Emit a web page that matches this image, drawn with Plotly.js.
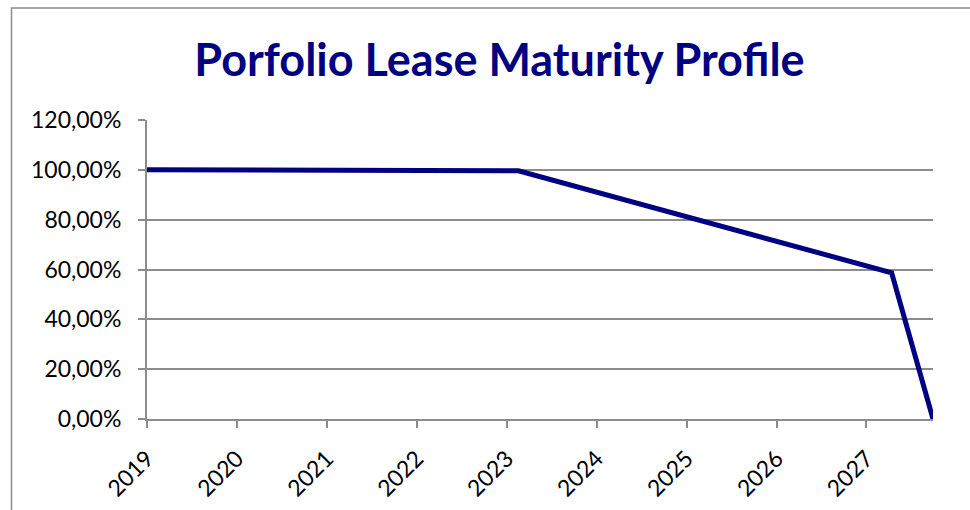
<!DOCTYPE html>
<html>
<head>
<meta charset="utf-8">
<script src="https://cdn.plot.ly/plotly-3.0.1.min.js"></script>
<style>html,body{margin:0;padding:0;background:#fff;}#chart{width:970px;height:510px;}</style>
</head>
<body>
<div id="chart"></div>
<script>
const titleText = "Porfolio Lease Maturity Profile";
const xYears = [2019, 2023.13, 2027.28, 2027.74];
const occupancy = [1.0, 0.996, 0.587, 0.0];
const tickYears = [2019, 2020, 2021, 2022, 2023, 2024, 2025, 2026, 2027];
const tickLabels = ["2019", "2020", "2021", "2022", "2023", "2024", "2025", "2026", "2027"];
const yTicks = [0, 0.2, 0.4, 0.6, 0.8, 1.0, 1.2];

const trace = {
  x: xYears,
  y: occupancy,
  type: 'scatter',
  mode: 'lines',
  line: {color: '#000080', width: 5},
  hoverinfo: 'skip'
};

const layout = {
  width: 970, height: 510,
  separators: ',.',
  margin: {l: 147, r: 37, t: 120, b: 91, pad: 0},
  paper_bgcolor: '#ffffff',
  plot_bgcolor: '#ffffff',
  showlegend: false,
  font: {family: 'Lato, "Open Sans", sans-serif', color: '#000000', size: 23},
  title: {
    text: '<b>' + titleText + '</b>',
    font: {family: 'Lato, "Open Sans", sans-serif', size: 45, color: '#000080'},
    x: 499.5/970, xanchor: 'center', xref: 'container',
    y: 1 - 60/510, yanchor: 'middle', yref: 'container'
  },
  xaxis: {
    range: [2019, 2027.74],
    tickmode: 'array', tickvals: tickYears, ticktext: tickLabels,
    tickangle: -45,
    ticks: 'outside', ticklen: 7, tickwidth: 2, tickcolor: '#8c8c8c',
    ticklabelstandoff: 8,
    showline: true, linecolor: '#8c8c8c', linewidth: 2,
    showgrid: false, zeroline: false, automargin: false,
    tickfont: {size: 23, color: '#000'}
  },
  yaxis: {
    range: [0, 1.2],
    tickmode: 'array', tickvals: yTicks,
    tickformat: '.2%',
    ticks: 'outside', ticklen: 7, tickwidth: 2, tickcolor: '#8c8c8c',
    ticklabelstandoff: 12,
    showline: true, linecolor: '#8c8c8c', linewidth: 2,
    showgrid: true, gridcolor: '#8c8c8c', gridwidth: 2,
    zeroline: false, automargin: false,
    tickfont: {size: 23, color: '#000'}
  },
  shapes: [{
    type: 'rect', xref: 'paper', yref: 'paper', layer: 'below',
    x0: (11.5-147)/786, x1: 1.2, y0: -0.5, y1: (419-8)/299,
    line: {color: '#8c8c8c', width: 1.5}, fillcolor: 'rgba(0,0,0,0)'
  }]
};

Plotly.newPlot('chart', [trace], layout, {displayModeBar: false, staticPlot: true});
</script>
</body>
</html>
